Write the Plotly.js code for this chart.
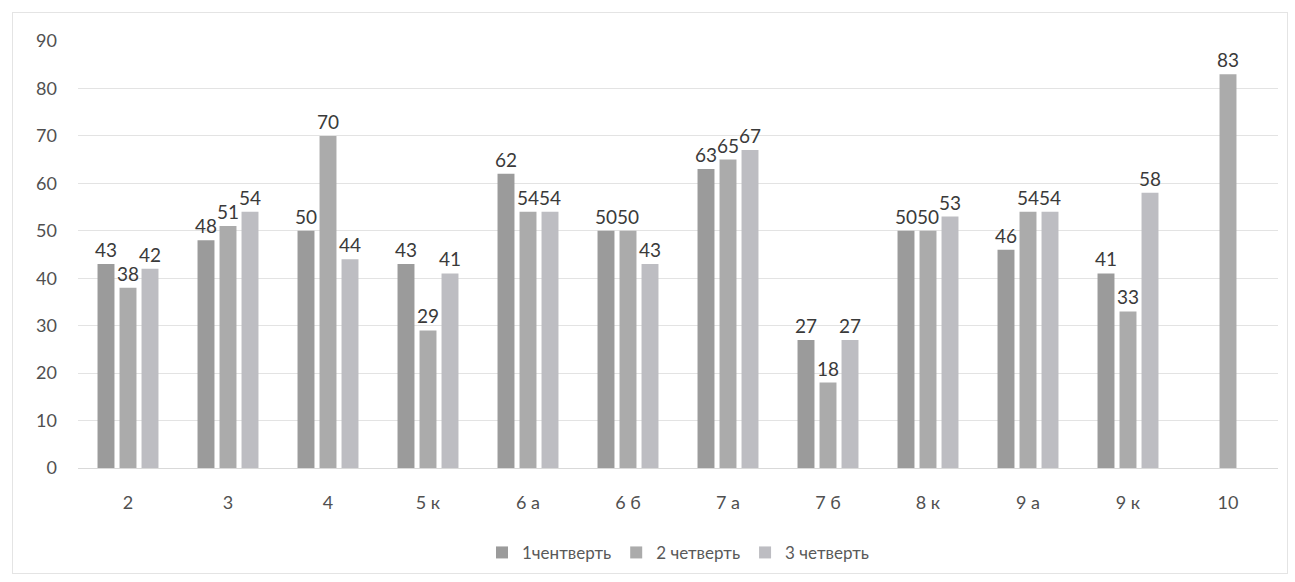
<!DOCTYPE html>
<html>
<head>
<meta charset="utf-8">
<script src="https://cdn.plot.ly/plotly-3.0.1.min.js"></script>
<style>
html,body{margin:0;padding:0;background:#fff;}
#wrap{position:absolute;left:12px;top:12px;width:1276px;height:562px;border:1px solid #e4e4e4;box-sizing:border-box;}
#chart{position:absolute;left:0;top:0;width:1295px;height:582px;}
</style>
</head>
<body>
<div id="wrap"></div>
<div id="chart"></div>
<script>
const categories = ["2", "3", "4", "5 к", "6 а", "6 б", "7 а", "7 б", "8 к", "9 а", "9 к", "10"];
const seriesNames = ["1чентверть", "2 четверть", "3 четверть"];
const q1 = [43, 48, 50, 43, 62, 50, 63, 27, 50, 46, 41, null];
const q2 = [38, 51, 70, 29, 54, 50, 65, 18, 50, 54, 33, 83];
const q3 = [42, 54, 44, 41, 54, 43, 67, 27, 53, 54, 58, null];
const colors = ["#9b9b9b", "#ababab", "#bdbdc2"];

const allSeries = [q1, q2, q3];
const traces = allSeries.map((vals, i) => ({
  type: "bar",
  name: seriesNames[i],
  x: categories,
  y: vals,
  marker: {color: colors[i]},
  text: vals.map(v => v === null ? "" : String(v)),
  textposition: "outside",
  constraintext: "none",
  textfont: {family: "Lato, 'Open Sans', sans-serif", size: 19, color: "#3a3a3a"},
  cliponaxis: false,
  hoverinfo: "x+y+name"
}));

const layout = {
  width: 1295,
  height: 582,
  margin: {l: 78, r: 17, t: 41, b: 113},
  paper_bgcolor: "rgba(0,0,0,0)",
  plot_bgcolor: "rgba(0,0,0,0)",
  barmode: "group",
  bargap: 0.34,
  bargroupgap: 0.23,
  font: {family: "Lato, 'Open Sans', sans-serif", color: "#595959", size: 18},
  showlegend: true,
  legend: {
    orientation: "h",
    x: 0.5, xanchor: "center",
    y: -0.196, yanchor: "middle",
    font: {size: 17, color: "#595959"},
    itemwidth: 30,
    traceorder: "normal"
  },
  xaxis: {
    type: "category",
    showgrid: false,
    zeroline: false,
    showline: false,
    ticks: "",
    ticklabelstandoff: 22,
    tickfont: {size: 18, color: "#505050"}
  },
  yaxis: {
    range: [0, 90],
    tickvals: [0, 10, 20, 30, 40, 50, 60, 70, 80, 90],
    showgrid: true,
    gridcolor: "#e3e3e3",
    gridwidth: 1,
    zeroline: true,
    zerolinecolor: "#d9d9d9",
    showline: false,
    ticks: "",
    ticklabelstandoff: 20,
    tickfont: {size: 18, color: "#505050"}
  }
};

Plotly.newPlot("chart", traces, layout, {displayModeBar: false, staticPlot: true});
</script>
</body>
</html>
